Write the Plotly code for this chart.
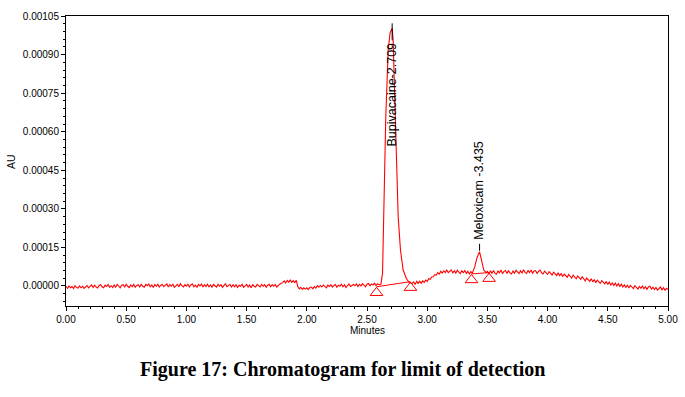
import plotly.graph_objects as go

# ---------------- data (absorbance in micro-AU, time in minutes) ----------------
seg_step = 0.0125

seg1_start = 0.0
seg1_au = [
    -1, -9, 0, -7, -2, -10, 1, -6, -8, 0, -7, -1, -9, -3, 2, -7,
    -3, 4, -6, 3, -4, -8, 2, 5, -3, -7, 3, -2, 6, -5, 1, -6,
    4, -5, 6, -2, -7, 3, 5, -4, 7, -1, -6, 4, -3, 6, -5, 2,
    5, -4, 7, -1, -5, 6, 1, 8, -3, 4, -6, 5, -1, 7, -4, 3,
    6, -3, 3, 8, -4, 5, -1, 7, -5, 2, 6, -3, 9, 1, -4, 5,
    -1, 7, -4, 5, 8, -3, 3, -5, 6, 0, 8, -4, 5, -2, 7, -3,
    4, -5, 6, 1, -4, 7, -1, 5, -6, 3, 8, -3, 2, 6, -4, 5,
    -3, 5, -6, 3, -1, 7, -5, 2, 6, -4, 4, -7, 5, -1, -4, 6,
    2, -4, 6, -1, 5, -5, 3, 7, -3, 5, -1, 6, -4, 3, 7, 11,
    13, 20, 12, 22, 15, 23, 14, 21, 13, 22, -2, -11, -5, -13, -7, -12,
    -7, -14, -6, -4, -11, -2, -8, 1, -5, 2, -4, 4, -3, -7, 3, -2,
    5, -4, 2, 6, -5, 3, -1, 7, -3, 5, -6, 3, 8, -2, 2, 6,
    1, 8, -2, 6, 0, 9, 3, -3, 7, 10, 1, 8, 4, 11, 2, 9,
    5,
]

bupi_t = [2.615, 2.629, 2.643, 2.656, 2.676, 2.692, 2.709, 2.717, 2.731,
          2.745, 2.759, 2.778, 2.800, 2.828, 2.850]
bupi_au = [6, 49, 334, 658, 918, 985, 1002, 957, 723,
           464, 270, 140, 62, 28, 14]

seg2_start = 2.875
seg2_au = [9, 16, 6, 18, 10, 19, 11, 20, 14, 23, 18, 28, 26, 35, 36, 44,
           42, 52, 46, 57, 50, 59, 52, 62, 52, 60, 63, 51, 59, 50, 61, 54,
           48, 59, 52, 60, 49, 57, 47, 56, 50]

melox_t = [3.395, 3.415, 3.435, 3.451, 3.470, 3.490]
melox_au = [75, 112, 133, 101, 62, 52]

seg3_start = 3.5
seg3_au = [
    57, 47, 59, 49, 60, 50, 46, 58, 51, 62, 48, 57, 60, 49, 59, 51,
    47, 58, 50, 61, 52, 48, 59, 51, 63, 53, 49, 60, 52, 62, 50, 58,
    60, 49, 57, 62, 51, 47, 58, 50, 45, 56, 48, 43, 54, 46, 41, 51,
    40, 48, 37, 46, 39, 34, 45, 36, 31, 42, 33, 28, 39, 30, 26, 36,
    25, 20, 31, 22, 18, 28, 16, 25, 13, 23, 15, 10, 21, 12, 8, 18,
    6, 15, 4, 12, 2, 11, 0, 9, -2, 7, -4, 5, -6, 3, -8, 2,
    -5, -10, 1, -8, -12, -2, -9, 0, -11, -3, -13, -4, -1, -12, -5, -14,
    -6, -16, -8, -4, -15, -7, -17, -9, -13,
]

# integration baselines (drop points)
bupi_base_t = [2.579, 2.861]
bupi_base_au = [-3, 17]
melox_base_t = [3.368, 3.514]
melox_base_au = [47, 52]

peak_names = ["Bupivacaine", "Meloxicam "]
peak_rt = [2.709, 3.435]
peak_apex_au = [1002, 133]

y_ticks = [0.0, 0.00015, 0.00030, 0.00045, 0.00060, 0.00075, 0.00090, 0.00105]
x_ticks = [0.0, 0.5, 1.0, 1.5, 2.0, 2.5, 3.0, 3.5, 4.0, 4.5, 5.0]

MICRO = 1e-6


def seg(start, vals):
    return [round(start + i * seg_step, 5) for i in range(len(vals))], vals


t1, v1 = seg(seg1_start, seg1_au)
t2, v2 = seg(seg2_start, seg2_au)
t3, v3 = seg(seg3_start, seg3_au)
minutes = t1 + bupi_t + t2 + melox_t + t3
au = [v * MICRO for v in (v1 + bupi_au + v2 + melox_au + v3)]

# ---------------- figure ----------------
W, H = 685, 397
PL, PR, PT, PB = 66, 668, 16, 306          # plot frame in window pixels
ml, mt, mr, mb = PL, PT, W - PR, H - PB
plot_w, plot_h = PR - PL, PB - PT
y_min, y_max = -0.0000778, 0.00105
px = (y_max - y_min) / plot_h  # data units per pixel


def paper_x(wx):
    return (wx - PL) / plot_w


def paper_y(wy):
    return (PB - wy) / plot_h


RED = "#FF0000"
fig = go.Figure()
fig.add_trace(go.Scatter(x=minutes, y=au, mode="lines",
                         line=dict(color=RED, width=1.1), hoverinfo="skip"))

for bt, bv in ((bupi_base_t, bupi_base_au), (melox_base_t, melox_base_au)):
    yv = [v * MICRO for v in bv]
    fig.add_trace(go.Scatter(x=bt, y=yv, mode="lines",
                             line=dict(color=RED, width=1), hoverinfo="skip"))
    fig.add_trace(go.Scatter(x=bt, y=[v - 6 * px for v in yv], mode="markers",
                             marker=dict(symbol="triangle-up-open", size=11,
                                         color=RED, line=dict(width=1, color=RED)),
                             hoverinfo="skip"))

tick_font = dict(family="Arial, Liberation Sans, sans-serif", size=10, color="black")
label_font = dict(family="Arial, Liberation Sans, sans-serif", size=12.5, color="black")

# Bupivacaine: short marker line above the apex, label hanging below it
b_top = peak_apex_au[0] * MICRO + 5 * px
b_bot = peak_apex_au[0] * MICRO - 12 * px
fig.add_shape(type="line", x0=peak_rt[0], x1=peak_rt[0], y0=b_bot, y1=b_top,
              line=dict(color="black", width=1))
fig.add_annotation(x=peak_rt[0], y=b_bot, text=f"{peak_names[0]}-{peak_rt[0]:.3f}",
                   textangle=-90, showarrow=False, xanchor="center", yanchor="top",
                   font=label_font)
# Meloxicam: short line above apex, then label
m_bot = peak_apex_au[1] * MICRO + 1 * px
m_top = peak_apex_au[1] * MICRO + 8 * px
fig.add_shape(type="line", x0=peak_rt[1], x1=peak_rt[1], y0=m_bot, y1=m_top,
              line=dict(color="black", width=1))
fig.add_annotation(x=peak_rt[1], y=m_top + 2 * px, text=f"{peak_names[1]}-{peak_rt[1]:.3f}",
                   textangle=-90, showarrow=False, xanchor="center", yanchor="bottom",
                   font=label_font)

# axis titles and caption
title_font = dict(family="Arial, Liberation Sans, sans-serif", size=10.5, color="black")
fig.add_annotation(xref="paper", yref="paper", x=paper_x(11), y=paper_y(162),
                   text="AU", textangle=-90, showarrow=False,
                   xanchor="center", yanchor="middle", font=title_font)
fig.add_annotation(xref="paper", yref="paper", x=0.5, y=paper_y(330),
                   text="Minutes", showarrow=False,
                   xanchor="center", yanchor="middle",
                   font=dict(family="Arial, Liberation Sans, sans-serif", size=10,
                             color="black"))
fig.add_annotation(xref="paper", yref="paper", x=paper_x(342), y=paper_y(369),
                   text="<b>Figure 17: Chromatogram for limit of detection</b>",
                   showarrow=False, xanchor="center", yanchor="middle",
                   font=dict(family="Liberation Serif, Times New Roman, serif", size=20,
                             color="black"))

fig.update_layout(
    width=W, height=H,
    margin=dict(l=ml, r=mr, t=mt, b=mb, pad=0),
    paper_bgcolor="white", plot_bgcolor="white",
    showlegend=False,
    hovermode=False,
    xaxis=dict(range=[0, 5], tickvals=x_ticks, ticktext=[f"{v:.2f}" for v in x_ticks],
               automargin=False,
               showgrid=False, zeroline=False, showline=True, linecolor="black",
               linewidth=1, mirror=True, ticks="outside", ticklen=4, tickwidth=1,
               tickcolor="black", tickfont=tick_font,
               minor=dict(dtick=0.1, ticks="outside", ticklen=2, tickcolor="black",
                          showgrid=False)),
    yaxis=dict(range=[y_min, y_max], tickvals=y_ticks,
               ticktext=[f"{v:.5f}" for v in y_ticks],
               automargin=False,
               showgrid=False, zeroline=False, showline=True, linecolor="black",
               linewidth=1, mirror=True, ticks="outside", ticklen=4, tickwidth=1,
               tickcolor="black", tickfont=tick_font,
               minor=dict(dtick=0.00003, tick0=0, ticks="outside", ticklen=2,
                          tickcolor="black", showgrid=False)),
)

# remove the default 8px page margin so the figure sits at the window origin
fig.write_html("out.html", config={"displayModeBar": False},
               post_script="document.body.style.margin='0';document.body.style.overflow='hidden';")
